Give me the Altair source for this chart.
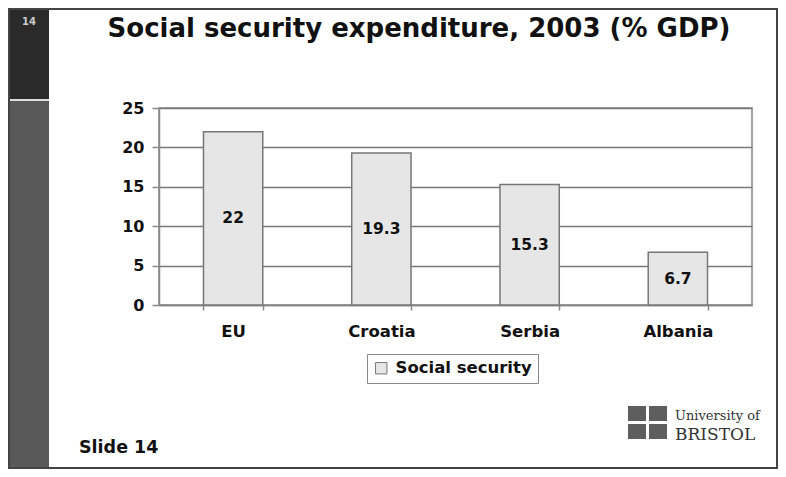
import altair as alt
import pandas as pd

# ---- data ----
countries = ["EU", "Croatia", "Serbia", "Albania"]
values = [22, 19.3, 15.3, 6.7]
labels = ["22", "19.3", "15.3", "6.7"]
series_name = "Social security"
y_ticks = [0, 5, 10, 15, 20, 25]
title_text = "Social security expenditure, 2003 (% GDP)"
slide_label = "Slide 14"
slide_number = "14"
logo_top = "University of"
logo_bottom = "BRISTOL"

df = pd.DataFrame({
    "country": countries,
    "value": values,
    "label": labels,
    "series": [series_name] * len(countries),
})
one = pd.DataFrame({"k": [0]})

W, H = 593, 197
FONT = "DejaVu Sans"
INK = "#111111"

x_axis = alt.Axis(
    title=None, labelAngle=0, tickBand="extent", tickSize=5, labelPadding=13,
    labelFont=FONT, labelFontSize=16.5, labelFontWeight="bold", labelColor=INK,
    domainColor="#888888", tickColor="#888888", domainWidth=1.5, tickWidth=1.5,
)
y_axis = alt.Axis(
    title=None, values=y_ticks, grid=True, gridColor="#777777", gridWidth=1.3,
    tickSize=7, labelPadding=8, labelFont=FONT, labelFontSize=16,
    labelFontWeight="bold", labelColor=INK, domainColor="#888888",
    tickColor="#888888", domainWidth=1.5, tickWidth=1.5, labelOverlap=False,
)
x_scale = alt.Scale(paddingInner=0.6, paddingOuter=0.3)
y_scale = alt.Scale(domain=[0, 25], nice=False)

bars = alt.Chart(df).mark_bar(stroke="#777777", strokeWidth=1.5).encode(
    x=alt.X("country:N", sort=countries, scale=x_scale, axis=x_axis),
    y=alt.Y("value:Q", scale=y_scale, axis=y_axis),
    color=alt.Color(
        "series:N",
        scale=alt.Scale(range=["#e6e6e6"]),
        legend=alt.Legend(
            title=None, orient="none", legendX=208, legendY=246, padding=6,
            strokeColor="#888888", fillColor="white", symbolType="square",
            symbolSize=130, symbolStrokeColor="#777777", symbolStrokeWidth=1,
            labelFont=FONT, labelFontSize=16.5, labelFontWeight="bold",
            labelColor=INK, labelOffset=6,
        ),
    ),
)

value_text = alt.Chart(df).transform_calculate(mid="datum.value / 2").mark_text(
    font=FONT, fontSize=15.5, fontWeight="bold", color=INK, baseline="middle"
).encode(
    x=alt.X("country:N", sort=countries, scale=x_scale, axis=x_axis),
    y=alt.Y("mid:Q", scale=y_scale, axis=y_axis),
    text="label:N",
)

# ---- slide decorations ----
def rect(x1, x2, y1, y2, color):
    return alt.Chart(one).mark_rect(color=color).encode(
        x=alt.value(x1), x2=alt.value(x2), y=alt.value(y1), y2=alt.value(y2))

side_dark = rect(-151, -110, -100, -9, "#2a2a2a")
side_sep = rect(-151, -110, -9, -7, "#dddddd")
side_gray = rect(-151, -110, -7, 361, "#595959")
frame = alt.Chart(one).mark_rect(fillOpacity=0, stroke="#444444", strokeWidth=2).encode(
    x=alt.value(-150), x2=alt.value(618), y=alt.value(-99), y2=alt.value(360))

logo_tl = rect(469, 487, 298, 313, "#5e5e5e")
logo_tr = rect(490, 508, 298, 313, "#5e5e5e")
logo_bl = rect(469, 487, 316, 331, "#5e5e5e")
logo_br = rect(490, 508, 316, 331, "#5e5e5e")


def label(text, x, y, size, align="left", baseline="alphabetic", color=INK,
          font=FONT, weight="bold"):
    return alt.Chart(pd.DataFrame({"t": [text]})).mark_text(
        font=font, fontSize=size, fontWeight=weight, color=color,
        align=align, baseline=baseline,
    ).encode(x=alt.value(x), y=alt.value(y), text="t:N")


title = label(title_text, 260, -71, 26, align="center")
slide = label(slide_label, -80, 345, 17.5)
num = label(slide_number, -130, -86, 10, align="center", baseline="middle",
            color="#cccccc")
logo_t1 = label(logo_top, 516, 312, 13, font="DejaVu Serif", weight="normal",
                color="#333333")
logo_t2 = label(logo_bottom, 516, 332, 17, font="DejaVu Serif", weight="normal",
                color="#333333")

chart = alt.layer(
    side_dark, side_sep, side_gray, frame,
    bars, value_text,
    title, slide, num,
    logo_tl, logo_tr, logo_bl, logo_br, logo_t1, logo_t2,
).properties(
    width=W, height=H,
    autosize=alt.AutoSizeParams(type="none"),
    padding={"left": 151, "top": 100, "right": 26, "bottom": 164},
).configure_view(stroke="#888888", strokeWidth=1.5)

chart.save("out.html", embed_options={"renderer": "svg", "actions": False})
